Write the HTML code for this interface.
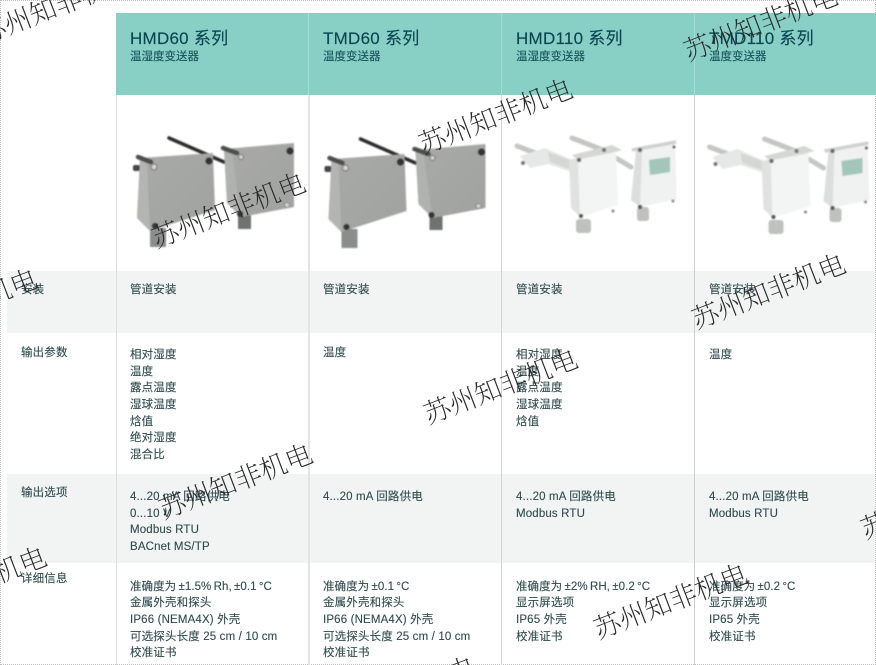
<!DOCTYPE html>
<html lang="zh">
<head>
<meta charset="utf-8">
<style>
html,body{margin:0;padding:0;background:#fff}
#p{position:relative;width:876px;height:665px;overflow:hidden;background:#fff;font-family:"Liberation Sans","Noto Sans CJK SC",sans-serif;color:#2f4b4f}
.r{position:absolute}
.t{position:absolute;margin-top:1px;font-size:11.5px;line-height:16px;white-space:nowrap;letter-spacing:.15px;filter:blur(.25px);-webkit-text-stroke:.12px #2f4b4f}
.d{word-spacing:-.9px;letter-spacing:.05px}
.h{position:absolute;font-size:17px;line-height:20px;top:29px;white-space:nowrap;color:#0c4552;letter-spacing:.25px;filter:blur(.2px);-webkit-text-stroke:.15px #0c4552}
.s{position:absolute;font-size:11.5px;line-height:16px;top:49px;white-space:nowrap;color:#17525b;filter:blur(.2px);-webkit-text-stroke:.12px #17525b}
.w{position:absolute;font-family:"Noto Serif CJK SC","Liberation Serif",serif;font-weight:200;font-size:27px;line-height:32px;width:170px;height:32px;text-align:center;white-space:nowrap;color:#2a2a2a;transform:translate(-50%,-50%) rotate(-21deg)}
</style>
</head>
<body>
<div id="p">
<div class="r" style="left:0;top:0;width:874px;height:663px;border:1px dotted #bdbdbd"></div>
<div class="r" style="left:116px;top:13px;width:760px;height:82px;background:#88d0c6"></div>
<div class="r" style="left:7px;top:271px;width:868px;height:62px;background:#f2f4f4"></div>
<div class="r" style="left:7px;top:474px;width:868px;height:89px;background:#f2f4f4"></div>
<div class="r" style="left:116px;top:95px;width:1px;height:570px;background:#dcdede"></div>
<div class="r" style="left:308px;top:95px;width:2px;height:570px;background:#e2e4e4"></div>
<div class="r" style="left:501px;top:95px;width:1px;height:570px;background:#d2d4d4"></div>
<div class="r" style="left:694px;top:95px;width:1px;height:570px;background:#cdcfcf"></div>
<div class="r" style="left:308px;top:13px;width:1px;height:82px;background:#a6dcd5"></div>
<div class="r" style="left:501px;top:13px;width:1px;height:82px;background:#a6dcd5"></div>
<div class="r" style="left:694px;top:13px;width:1px;height:82px;background:#a6dcd5"></div>

<svg class="r" style="left:0;top:0;filter:blur(.7px)" width="876" height="665" viewBox="0 0 876 665">
<defs>
<linearGradient id="g1" x1="0" y1="0" x2="1" y2="1"><stop offset="0" stop-color="#a9aaa8"/><stop offset="1" stop-color="#a0a2a0"/></linearGradient>
<g id="gray">
<path d="M169 138L224 162" stroke="#2b2b2b" stroke-width="3.5" stroke-linecap="round"/>
<rect x="133" y="165" width="7" height="6" rx="2" fill="#444"/>
<path d="M150 228h16v19h-16z" fill="#8a8d8b"/>
<path d="M140 158L213 153L215 210L150 231L137 218Z" fill="url(#g1)"/>
<path d="M140 158L147 161L150 231L137 218Z" fill="#b3b5b2"/>
<path d="M138 157L151 162" stroke="#4d4d4d" stroke-width="4.500" stroke-linecap="round"/>
<circle cx="154" cy="167" r="3" fill="#d5d6d3" stroke="#777"/>
<circle cx="209" cy="161" r="3.500" fill="#333"/>
<circle cx="155" cy="226" r="3" fill="#333"/>
<path d="M238 210h13v19h-13z" fill="#6f7270"/>
<path d="M224 149L294 143L294 207L241 217L227 203Z" fill="url(#g1)"/>
<path d="M224 149L232 152L241 217L227 203Z" fill="#b0b2af"/>
<path d="M223 148L237 153" stroke="#4d4d4d" stroke-width="4.500" stroke-linecap="round"/>
<circle cx="241" cy="157" r="2.500" fill="#d5d6d3" stroke="#777"/>
<circle cx="290" cy="151" r="3.500" fill="#333"/>
<circle cx="287" cy="205" r="2.500" fill="#d5d6d3" stroke="#888"/>
<circle cx="240" cy="214" r="3" fill="#333"/>
</g>
<g id="white">
<path d="M517 146L546 157M572 138L603 150M616 158L631 167" stroke="#c4c6c4" stroke-width="5" stroke-linecap="round"/>
<path d="M520 156L545 148L572 160L571 172L548 164L530 168Z" fill="#e6e8e7"/>
<path d="M548 152L570 160L572 170L550 162Z" fill="#d5d7d5"/>
<path d="M572 155L612 145L622 150L580 162Z" fill="#d5d7d5"/>
<circle cx="523" cy="163" r="2" fill="#777"/><circle cx="604" cy="150" r="2" fill="#777"/>
<path d="M575 160L616 152L618 205L580 217L574 210Z" fill="#f3f4f4"/>
<path d="M569 160L578 158L580 217L571 208Z" fill="#e0e2e1"/>
<rect x="576" y="219" width="15" height="14" rx="3" fill="#bfc1bf"/>
<circle cx="579" cy="160" r="2" fill="#666"/><circle cx="581" cy="216" r="2" fill="#555"/><circle cx="613" cy="211" r="1.500" fill="#888"/>
<path d="M636 151L675 144L677 199L640 207L631 200Z" fill="#f0f1f1"/>
<path d="M636 151L642 152L640 207L631 200Z" fill="#dcdedd"/>
<path d="M632 150L676 142" stroke="#cfd1cf" stroke-width="3.500"/>
<path d="M649 160L670 157L670 172L650 175Z" fill="#a2c6ba"/>
<rect x="637" y="207" width="12" height="14" rx="3" fill="#bfc1bf"/>
<circle cx="640" cy="150" r="2" fill="#666"/><circle cx="674" cy="147" r="1.500" fill="#666"/><circle cx="640" cy="207" r="2" fill="#555"/><circle cx="673" cy="201" r="1.500" fill="#888"/>
</g>
</defs>
<use href="#gray"/>
<use href="#gray" x="191.500" y="1"/>
<use href="#white"/>
<use href="#white" x="192.500" y="1"/>
</svg>

<div class="h" style="left:130px">HMD60 系列</div><div class="s" style="left:130px">温湿度变送器</div>
<div class="h" style="left:323px">TMD60 系列</div><div class="s" style="left:323px">温度变送器</div>
<div class="h" style="left:516px">HMD110 系列</div><div class="s" style="left:516px">温湿度变送器</div>
<div class="h" style="left:709px">TMD110 系列</div><div class="s" style="left:709px">温度变送器</div>

<div class="t" style="left:21px;top:281px">安装</div>
<div class="t" style="left:21px;top:344px">输出参数</div>
<div class="t" style="left:21px;top:484px">输出选项</div>
<div class="t" style="left:21px;top:570px">详细信息</div>

<div class="t" style="left:130px;top:281px">管道安装</div>
<div class="t" style="left:323px;top:281px">管道安装</div>
<div class="t" style="left:516px;top:281px">管道安装</div>
<div class="t" style="left:709px;top:281px">管道安装</div>

<div class="t" style="left:130px;top:346px">相对湿度</div>
<div class="t" style="left:130px;top:363px">温度</div>
<div class="t" style="left:130px;top:379px">露点温度</div>
<div class="t" style="left:130px;top:396px">湿球温度</div>
<div class="t" style="left:130px;top:413px">焓值</div>
<div class="t" style="left:130px;top:429px">绝对湿度</div>
<div class="t" style="left:130px;top:446px">混合比</div>
<div class="t" style="left:323px;top:344px">温度</div>
<div class="t" style="left:516px;top:346px">相对湿度</div>
<div class="t" style="left:516px;top:363px">温度</div>
<div class="t" style="left:516px;top:379px">露点温度</div>
<div class="t" style="left:516px;top:396px">湿球温度</div>
<div class="t" style="left:516px;top:413px">焓值</div>
<div class="t" style="left:709px;top:346px">温度</div>

<div class="t" style="left:130px;top:488px">4...20 mA 回路供电</div>
<div class="t" style="left:130px;top:505px">0...10 V</div>
<div class="t" style="left:130px;top:521px">Modbus RTU</div>
<div class="t" style="left:130px;top:538px">BACnet MS/TP</div>
<div class="t" style="left:323px;top:488px">4...20 mA 回路供电</div>
<div class="t" style="left:516px;top:488px">4...20 mA 回路供电</div>
<div class="t" style="left:516px;top:505px">Modbus RTU</div>
<div class="t" style="left:709px;top:488px">4...20 mA 回路供电</div>
<div class="t" style="left:709px;top:505px">Modbus RTU</div>

<div class="t d" style="left:130px;top:578px">准确度为 ±1.5% Rh, ±0.1 °C</div>
<div class="t" style="left:130px;top:594px">金属外壳和探头</div>
<div class="t" style="left:130px;top:611px">IP66 (NEMA4X) 外壳</div>
<div class="t" style="left:130px;top:628px">可选探头长度 25 cm / 10 cm</div>
<div class="t" style="left:130px;top:644px">校准证书</div>
<div class="t d" style="left:323px;top:578px">准确度为 ±0.1 °C</div>
<div class="t" style="left:323px;top:594px">金属外壳和探头</div>
<div class="t" style="left:323px;top:611px">IP66 (NEMA4X) 外壳</div>
<div class="t" style="left:323px;top:628px">可选探头长度 25 cm / 10 cm</div>
<div class="t" style="left:323px;top:644px">校准证书</div>
<div class="t d" style="left:516px;top:578px">准确度为 ±2% RH, ±0.2 °C</div>
<div class="t" style="left:516px;top:594px">显示屏选项</div>
<div class="t" style="left:516px;top:611px">IP65 外壳</div>
<div class="t" style="left:516px;top:628px">校准证书</div>
<div class="t d" style="left:709px;top:578px">准确度为 ±0.2 °C</div>
<div class="t" style="left:709px;top:594px">显示屏选项</div>
<div class="t" style="left:709px;top:611px">IP65 外壳</div>
<div class="t" style="left:709px;top:628px">校准证书</div>

<div class="w" style="left:228px;top:209px">苏州知非机电</div>
<div class="w" style="left:495px;top:115px">苏州知非机电</div>
<div class="w" style="left:760px;top:22px">苏州知非机电</div>
<div class="w" style="left:768px;top:290px">苏州知非机电</div>
<div class="w" style="left:500px;top:385px">苏州知非机电</div>
<div class="w" style="left:235px;top:480px">苏州知非机电</div>
<div class="w" style="left:670px;top:600px">苏州知非机电</div>
<div class="w" style="left:55px;top:5px">苏州知非机电</div>
<div class="w" style="left:-40px;top:305px">苏州知非机电</div>
<div class="w" style="left:-31px;top:583px">苏州知非机电</div>
<div class="w" style="left:937px;top:500px">苏州知非机电</div>
<div class="w" style="left:398px;top:693px">苏州知非机电</div>
</div>
</body>
</html>
